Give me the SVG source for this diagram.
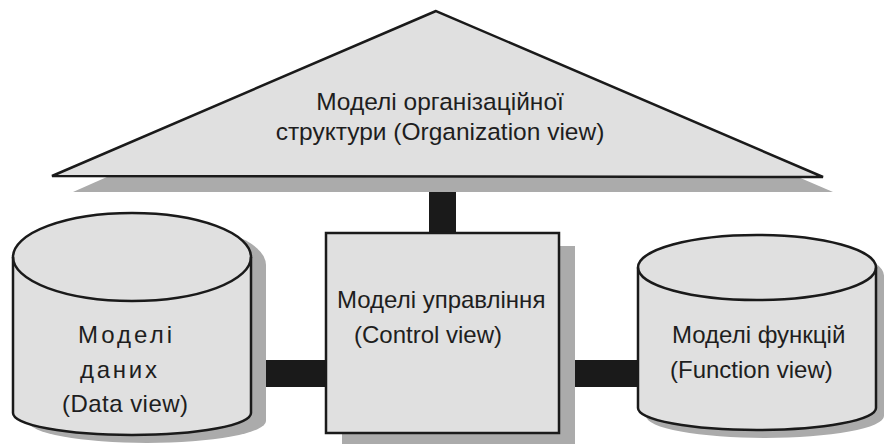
<svg xmlns="http://www.w3.org/2000/svg" width="886" height="444" viewBox="0 0 886 444">
<style>
.shape{fill:#e0e0e0;stroke:#1a1a1a;stroke-width:2.5;stroke-linejoin:miter}
.line{fill:none;stroke:#1a1a1a;stroke-width:2.5}
.shadow{fill:#ababab;stroke:none}
.conn{fill:#1a1a1a}
text{font-family:"Liberation Sans",Arial,sans-serif;font-size:24px;fill:#1e1e1e}
.big{font-size:24.5px}
</style>
<rect width="886" height="444" fill="#ffffff"/>
<g id="connectors">
<rect class="conn" x="429" y="186" width="27" height="48"/>
<rect class="conn" x="255" y="360" width="72" height="27"/>
<rect class="conn" x="560" y="360" width="80" height="27"/>
</g>
<g id="organization">
<polygon class="shadow" points="448,26 73,192 833,192"/>
<polygon class="shape" points="436,11 52,176 823,177"/>
<text class="big" x="440" y="110" text-anchor="middle">Моделі організаційної</text>
<text class="big" x="440" y="140" text-anchor="middle">структури (Organization view)</text>
</g>
<g id="data">
<path class="shadow" d="M28,265 L28,421 A119,22 0 0 0 266,421 L266,265 A119,44 0 0 0 28,265 Z"/>
<path class="shape" d="M13,257 L13,413 A119,22 0 0 0 251,413 L251,257 A119,44 0 0 0 13,257 Z"/>
<path class="line" d="M13,257 A119,44 0 0 0 251,257"/>
<text x="78" y="343" textLength="94" lengthAdjust="spacing">Моделі</text>
<text x="80" y="378" textLength="77" lengthAdjust="spacing">даних</text>
<text x="62" y="412" textLength="126" lengthAdjust="spacing">(Data view)</text>
</g>
<g id="control">
<rect class="shadow" x="342" y="246" width="233" height="200"/>
<rect class="shape" x="326" y="233" width="233" height="200"/>
<text x="337" y="308">Моделі управління</text>
<text x="354" y="343">(Control view)</text>
</g>
<g id="function">
<path class="shadow" d="M646,275.5 L646,416 A119,22 0 0 0 884,416 L884,275.5 A119,32.5 0 0 0 646,275.5 Z"/>
<path class="shape" d="M638,267.5 L638,408 A119,22 0 0 0 876,408 L876,267.5 A119,32.5 0 0 0 638,267.5 Z"/>
<path class="line" d="M638,267.5 A119,32.5 0 0 0 876,267.5"/>
<text x="672" y="343">Моделі функцій</text>
<text x="670" y="378">(Function view)</text>
</g>
</svg>
